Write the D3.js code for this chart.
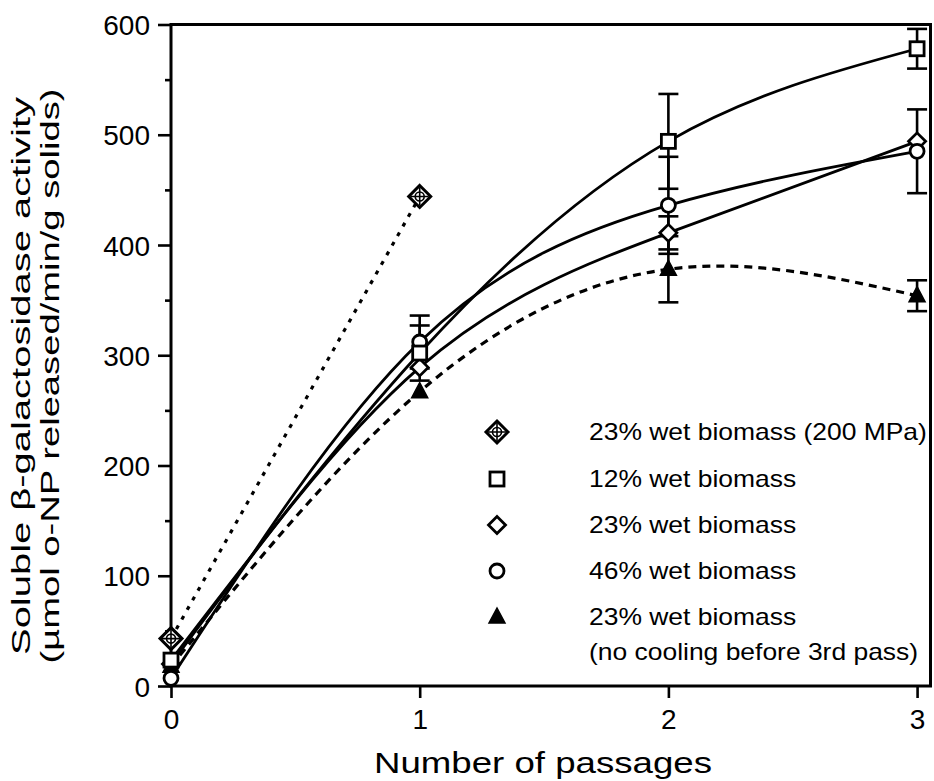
<!DOCTYPE html>
<html>
<head>
<meta charset="utf-8">
<script src="https://cdn.jsdelivr.net/npm/d3@7/dist/d3.min.js"></script>
<style>
  html, body { margin: 0; padding: 0; background: #fff; }
  svg { display: block; }
  text { font-family: "Liberation Sans", Arial, Helvetica, sans-serif; fill: #000; }
</style>
</head>
<body>
<svg id="chart" width="934" height="781"></svg>
<script>
// Number of passages through the homogeniser
const passes = [0, 1, 2, 3];

// Soluble β-galactosidase activity (µmol o-NP released/min/g solids)
const hp200 = [43, 444];            // 23% wet biomass (200 MPa)
const wet12 = [23.5, 302, 494, 578]; // 12% wet biomass
const wet23 = [20, 289, 411, 494];   // 23% wet biomass
const wet46 = [7, 312, 436, 485];    // 46% wet biomass
const noCool = [18, 267, 378, 354];  // 23% wet biomass, no cooling before 3rd pass

// Half-width of the error bars (0 = none drawn)
const wet12Err = [0, 25, 43, 18];
const wet23Err = [0, 0, 15, 0];
const wet46Err = [0, 24, 44, 38];
const noCoolErr = [0, 0, 30, 14];

const yMajorTicks = [0, 100, 200, 300, 400, 500, 600];
const yMinorTicks = [50, 150, 250, 350, 450, 550];
const xTicks = [0, 1, 2, 3];

const legendLabels = [
  ["23% wet biomass (200 MPa)"],
  ["12% wet biomass"],
  ["23% wet biomass"],
  ["46% wet biomass"],
  ["23% wet biomass", "(no cooling before 3rd pass)"]
];

const W = 934, H = 781;
const margin = { left: 171, right: 2, top: 24.5, bottom: 95 };
const svg = d3.select("#chart");

const x = d3.scaleLinear().domain([0, 3.06]).range([margin.left, W - margin.right]);
const y = d3.scaleLinear().domain([0, 600]).range([H - margin.bottom, margin.top]);

const series = [
  { key: "hp200", values: hp200, err: null, marker: "crossDiamond", dash: "4,7" },
  { key: "wet23", values: wet23, err: wet23Err, marker: "diamond", dash: null },
  { key: "noCool", values: noCool, err: noCoolErr, marker: "triangle", dash: "8,6" },
  { key: "wet46", values: wet46, err: wet46Err, marker: "circle", dash: null },
  { key: "wet12", values: wet12, err: wet12Err, marker: "square", dash: null }
];

// Axes
const yAxis = d3.axisLeft(y).tickValues(yMajorTicks).tickSize(13).tickPadding(8).tickFormat(d3.format("d"));
const yMinor = d3.axisLeft(y).tickValues(yMinorTicks).tickSize(6).tickFormat("");
const xAxis = d3.axisBottom(x).tickValues(xTicks).tickSize(12).tickPadding(10).tickFormat(d3.format("d"));

const gy = svg.append("g").attr("transform", `translate(${margin.left},0)`).call(yAxis);
svg.append("g").attr("transform", `translate(${margin.left},0)`).call(yMinor);
const gx = svg.append("g").attr("transform", `translate(0,${y(0)})`).call(xAxis);
svg.selectAll(".domain").remove();
svg.selectAll(".tick line").attr("stroke", "#000").attr("stroke-width", 2.6);
gy.selectAll(".tick text").attr("font-size", 28).attr("dy", "0.36em");
gx.selectAll(".tick text").attr("font-size", 28).attr("dy", "0.75em");

// Plot frame
svg.append("rect")
  .attr("x", x(0)).attr("y", y(600))
  .attr("width", x(3.06) - x(0) - 1.5).attr("height", y(0) - y(600))
  .attr("fill", "none").attr("stroke", "#000").attr("stroke-width", 3);

// Axis titles
svg.append("text")
  .attr("x", 543).attr("y", 773)
  .attr("text-anchor", "middle").attr("font-size", 30)
  .attr("textLength", 338).attr("lengthAdjust", "spacingAndGlyphs")
  .text("Number of passages");

const yTitle = svg.append("g").attr("transform", "translate(0,376) rotate(-90)");
yTitle.append("text")
  .attr("x", 0).attr("y", 30)
  .attr("text-anchor", "middle").attr("font-size", 25)
  .attr("textLength", 558).attr("lengthAdjust", "spacingAndGlyphs")
  .text("Soluble β-galactosidase activity");
yTitle.append("text")
  .attr("x", 0).attr("y", 59)
  .attr("text-anchor", "middle").attr("font-size", 25)
  .attr("textLength", 575).attr("lengthAdjust", "spacingAndGlyphs")
  .text("(µmol o-NP released/min/g solids)");

// Curves
const line = d3.line()
  .x((d, i) => x(passes[i]))
  .y(d => y(d))
  .curve(d3.curveNatural);

const plot = svg.append("g");
series.forEach(s => {
  plot.append("path")
    .attr("d", line(s.values))
    .attr("fill", "none")
    .attr("stroke", "#000")
    .attr("stroke-width", s.dash ? 3.2 : 2.8)
    .attr("stroke-dasharray", s.dash);
});

// Error bars
const capHalf = 10;
series.forEach(s => {
  if (!s.err) return;
  s.values.forEach((v, i) => {
    const e = s.err[i];
    if (!e) return;
    const cx = x(passes[i]);
    const g = plot.append("g").attr("stroke", "#000").attr("stroke-width", 2.6);
    g.append("line").attr("x1", cx).attr("x2", cx).attr("y1", y(v - e)).attr("y2", y(v + e));
    g.append("line").attr("x1", cx - capHalf).attr("x2", cx + capHalf).attr("y1", y(v - e)).attr("y2", y(v - e));
    g.append("line").attr("x1", cx - capHalf).attr("x2", cx + capHalf).attr("y1", y(v + e)).attr("y2", y(v + e));
  });
});

// Marker shapes
function drawMarker(g, type, cx, cy) {
  const m = g.append("g").attr("transform", `translate(${cx},${cy})`);
  if (type === "square") {
    m.append("rect").attr("x", -7).attr("y", -7).attr("width", 14).attr("height", 14)
      .attr("fill", "#fff").attr("stroke", "#000").attr("stroke-width", 2.8);
  } else if (type === "circle") {
    m.append("circle").attr("r", 7)
      .attr("fill", "#fff").attr("stroke", "#000").attr("stroke-width", 2.8);
  } else if (type === "diamond") {
    m.append("path").attr("d", "M0,-8.5L8.5,0L0,8.5L-8.5,0Z")
      .attr("fill", "#fff").attr("stroke", "#000").attr("stroke-width", 2.8);
  } else if (type === "triangle") {
    m.append("path").attr("d", "M0,-9L8,6L-8,6Z")
      .attr("fill", "#000").attr("stroke", "#000").attr("stroke-width", 1.5);
  } else if (type === "crossDiamond") {
    m.append("path").attr("d", "M0,-11L11,0L0,11L-11,0Z")
      .attr("fill", "#fff").attr("stroke", "#000").attr("stroke-width", 3);
    m.append("circle").attr("r", 4.5)
      .attr("fill", "none").attr("stroke", "#000").attr("stroke-width", 1.6);
    m.append("path").attr("d", "M-9,0H9M0,-9V9")
      .attr("stroke", "#000").attr("stroke-width", 1.6);
  }
}

series.forEach(s => {
  s.values.forEach((v, i) => drawMarker(plot, s.marker, x(passes[i]), y(v)));
});

// Legend
const legendOrder = ["crossDiamond", "square", "diamond", "circle", "triangle"];
const legendRows = [432, 479, 525, 571, 617];
const legend = svg.append("g");
legendOrder.forEach((mk, i) => {
  drawMarker(legend, mk, 497, legendRows[i]);
  legendLabels[i].forEach((txt, j) => {
    legend.append("text")
      .attr("transform", `translate(589,${legendRows[i] + 8 + j * 35}) scale(1.15,1)`)
      .attr("font-size", 23)
      .text(txt);
  });
});
</script>
</body>
</html>
